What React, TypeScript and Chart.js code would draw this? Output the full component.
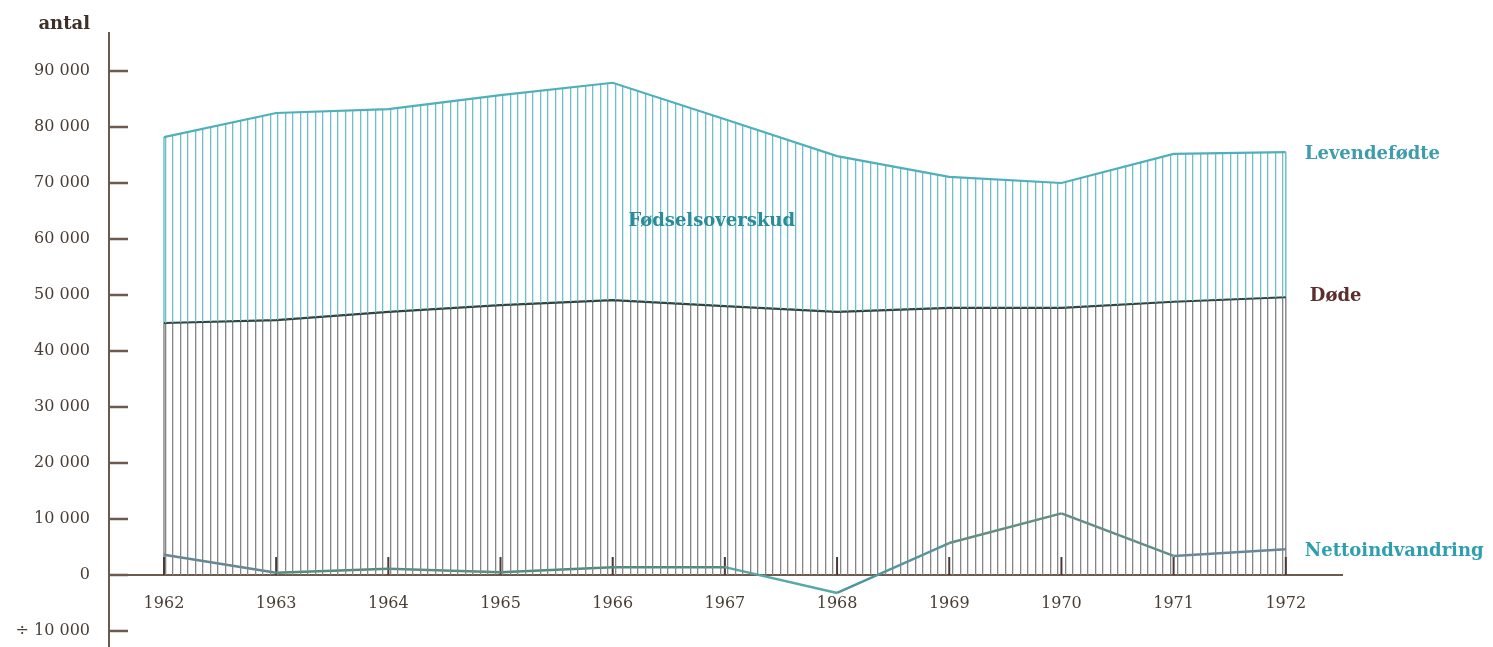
import React, { useEffect, useRef } from "react";
import { Chart, registerables } from "chart.js";

Chart.register(...registerables);

const years = [1962, 1963, 1964, 1965, 1966, 1967, 1968, 1969, 1970, 1971, 1972];
const levendefodte = [78200, 82500, 83200, 85700, 87900, 81400, 74800, 71100, 70000, 75200, 75500];
const dode = [45000, 45500, 47000, 48200, 49100, 48000, 47000, 47700, 47700, 48800, 49600];
const nettoindvandring = [3600, 400, 1100, 500, 1400, 1400, -3200, 5700, 11000, 3400, 4600];
const yTicks = [-10000, 0, 10000, 20000, 30000, 40000, 50000, 60000, 70000, 80000, 90000];
const yTickLabels = ["÷ 10 000", "0", "10 000", "20 000", "30 000", "40 000", "50 000", "60 000", "70 000", "80 000", "90 000"];
const nettoSegmentColors = ["#5f8796", "#4f8c7c", "#568f80", "#4f8c7c", "#4f8c7c", "#55a9a6", "#4f97a0", "#5a927f", "#5c8f88", "#6487a0"];

const AXIS = "#6b5a4d";
const TEXT = "#4a3d33";

function makePattern(color: string): CanvasPattern | string {
  const c = document.createElement("canvas");
  c.width = 15;
  c.height = 4;
  const ctx = c.getContext("2d");
  if (!ctx) return color;
  ctx.fillStyle = color;
  ctx.fillRect(0, 0, 1, 4);
  ctx.fillRect(7, 0, 1, 4);
  ctx.globalAlpha = 0.3;
  ctx.fillRect(1, 0, 1, 4);
  ctx.fillRect(8, 0, 1, 4);
  const p = ctx.createPattern(c, "repeat");
  return p || color;
}

const decoPlugin = {
  id: "deco",
  beforeDatasetsDraw(chart: any) {
    const { ctx, chartArea, scales } = chart;
    const x = scales.x;
    const y = scales.y;
    const y0 = y.getPixelForValue(0);
    ctx.save();
    ctx.strokeStyle = AXIS;
    ctx.lineWidth = 2;
    ctx.beginPath();
    ctx.moveTo(chartArea.left, y0);
    ctx.lineTo(chartArea.right, y0);
    ctx.stroke();
    const edges = [0, years.length - 1];
    edges.forEach((i) => {
      const px = x.getPixelForValue(years[i]);
      ctx.lineWidth = 1.5;
      ctx.strokeStyle = "#8a8a8a";
      ctx.beginPath();
      ctx.moveTo(px, y0);
      ctx.lineTo(px, y.getPixelForValue(dode[i]));
      ctx.stroke();
      ctx.strokeStyle = "#6fbfca";
      ctx.beginPath();
      ctx.moveTo(px, y.getPixelForValue(dode[i]));
      ctx.lineTo(px, y.getPixelForValue(levendefodte[i]));
      ctx.stroke();
    });
    ctx.strokeStyle = "#4a3a35";
    ctx.lineWidth = 2;
    years.forEach((yr) => {
      const px = x.getPixelForValue(yr);
      ctx.beginPath();
      ctx.moveTo(px, y0);
      ctx.lineTo(px, y0 - 18);
      ctx.stroke();
    });
    ctx.restore();
  },
  afterDraw(chart: any) {
    const { ctx, chartArea, scales } = chart;
    const x = scales.x;
    const y = scales.y;
    const y0 = y.getPixelForValue(0);
    ctx.save();
    ctx.strokeStyle = AXIS;
    ctx.lineWidth = 2.5;
    yTicks.forEach((v) => {
      const py = y.getPixelForValue(v);
      ctx.beginPath();
      ctx.moveTo(chartArea.left, py);
      ctx.lineTo(chartArea.left + 19, py);
      ctx.stroke();
    });
    ctx.fillStyle = TEXT;
    ctx.font = "16px 'DejaVu Serif'";
    ctx.textAlign = "center";
    ctx.textBaseline = "middle";
    years.forEach((yr) => {
      ctx.fillText(String(yr), x.getPixelForValue(yr), y0 + 29);
    });
    ctx.font = "bold 18px 'DejaVu Serif'";
    ctx.textAlign = "right";
    ctx.fillStyle = "#3e3028";
    ctx.fillText("antal", 90, 24);
    const last = years.length - 1;
    const lx = x.getPixelForValue(years[last]) + 19;
    ctx.textAlign = "left";
    ctx.font = "bold 18px 'DejaVu Serif'";
    ctx.fillStyle = "#3f9cad";
    ctx.fillText("Levendefødte", lx, y.getPixelForValue(levendefodte[last]) + 2);
    ctx.fillStyle = "#5a2f2c";
    ctx.fillText("Døde", lx + 5, y.getPixelForValue(dode[last]) - 1);
    ctx.fillStyle = "#2f9fae";
    ctx.fillText("Nettoindvandring", lx, y.getPixelForValue(nettoindvandring[last]) + 2);
    ctx.fillStyle = "#2a8c98";
    ctx.fillText("Fødselsoverskud", x.getPixelForValue(1966.14), y.getPixelForValue(63200));
    ctx.restore();
  },
};

export default function App() {
  const ref = useRef<HTMLCanvasElement | null>(null);
  useEffect(() => {
    if (!ref.current) return;
    const tealPattern = makePattern("#6fbfca");
    const grayPattern = makePattern("#858587");
    const chart = new Chart(ref.current, {
      type: "line",
      data: {
        datasets: [
          {
            label: "Levendefødte",
            data: years.map((yr, i) => ({ x: yr, y: levendefodte[i] })),
            borderColor: "#4fb0bb",
            borderWidth: 2.2,
            pointRadius: 0,
            fill: 1,
            backgroundColor: tealPattern as any,
            tension: 0,
          },
          {
            label: "Døde",
            data: years.map((yr, i) => ({ x: yr, y: dode[i] })),
            borderColor: "#2f4640",
            borderWidth: 2.2,
            pointRadius: 0,
            fill: "origin",
            backgroundColor: grayPattern as any,
            tension: 0,
          },
          {
            label: "Nettoindvandring",
            data: years.map((yr, i) => ({ x: yr, y: nettoindvandring[i] })),
            borderColor: "#4f8c7c",
            borderWidth: 2.5,
            pointRadius: 0,
            fill: false,
            tension: 0,
            segment: {
              borderColor: (c: any) => nettoSegmentColors[c.p0DataIndex] || "#4f8c7c",
            },
          },
        ],
      },
      options: {
        animation: false,
        responsive: true,
        maintainAspectRatio: false,
        layout: { padding: { top: 33, right: 150, bottom: 0, left: 0 } },
        plugins: { legend: { display: false }, tooltip: { enabled: false } },
        scales: {
          x: {
            type: "linear",
            display: false,
            min: 1961.51,
            max: 1972.51,
          },
          y: {
            type: "linear",
            min: -12860,
            max: 96790,
            afterBuildTicks: (s: any) => {
              s.ticks = yTicks.map((v) => ({ value: v }));
            },
            afterFit: (s: any) => {
              s.width = 109;
              s.paddingTop = 0;
              s.paddingBottom = 0;
            },
            border: { display: true, color: AXIS, width: 2 },
            grid: { display: false, drawTicks: false },
            ticks: {
              padding: 19,
              color: TEXT,
              font: { family: "'DejaVu Serif'", size: 16 },
              callback: (v: any) => {
                const i = yTicks.indexOf(Number(v));
                return i >= 0 ? yTickLabels[i] : "";
              },
            },
          },
        },
      },
      plugins: [decoPlugin],
    });
    return () => chart.destroy();
  }, []);
  return (
    <div style={{ position: "fixed", left: 0, top: 0, width: 1493, height: 647, background: "#fff" }}>
      <canvas ref={ref} />
    </div>
  );
}
